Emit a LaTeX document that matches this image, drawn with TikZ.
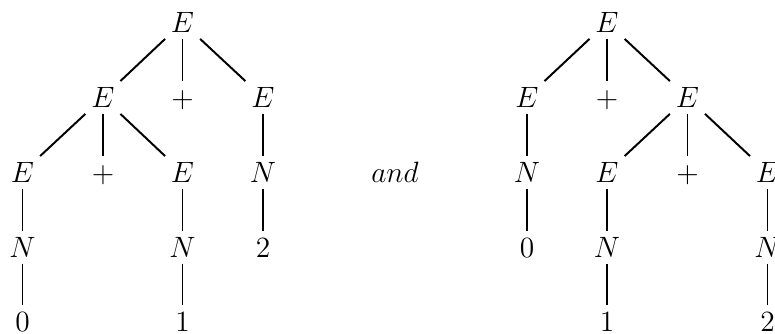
\documentclass[tikz,border=0pt]{standalone}
\begin{document}
\begin{tikzpicture}[x=0.408pt, y=-0.408pt,
  tn/.style={inner sep=0pt, font=\fontsize{12}{14}\selectfont,
             text height=8.2pt, text depth=0pt,
             minimum height=13pt, minimum width=16pt},
  br/.style={line width=0.8pt}]
\useasboundingbox (0,0) rectangle (775,334);

% first derivation tree
\node[tn] (a)   at (182.5,22.5)  {$E$};
\node[tn] (a1)  at (103,97.5)    {$E$};
\node[tn] (a2)  at (182.5,97.5)  {$+$};
\node[tn] (a3)  at (263,97.5)    {$E$};
\node[tn] (a11) at (22.5,172.5)  {$E$};
\node[tn] (a12) at (103,172.5)   {$+$};
\node[tn] (a13) at (182.5,172.5) {$E$};
\node[tn] (a31) at (263,172.5)   {$N$};
\node[tn] (a111) at (22.5,247.5) {$N$};
\node[tn] (a131) at (182.5,247.5){$N$};
\node[tn] (a311) at (263,247.5)  {$2$};
\node[tn] (a1111) at (22.5,321.5){$0$};
\node[tn] (a1311) at (182.5,321.5){$1$};

\draw[br] (a) -- (a1);  \draw[br] (a) -- (a2);  \draw[br] (a) -- (a3);
\draw[br] (a1) -- (a11); \draw[br] (a1) -- (a12); \draw[br] (a1) -- (a13);
\draw[br] (a3) -- (a31); \draw[br] (a31) -- (a311);
\draw[br] (a11) -- (a111); \draw[br] (a111) -- (a1111);
\draw[br] (a13) -- (a131); \draw[br] (a131) -- (a1311);

\node[tn] (and) at (395,172.5) {$and$};

% second derivation tree
\node[tn] (b)   at (607,22.5)    {$E$};
\node[tn] (b1)  at (527,97.5)    {$E$};
\node[tn] (b2)  at (607,97.5)    {$+$};
\node[tn] (b3)  at (687.5,97.5)  {$E$};
\node[tn] (b11) at (527,172.5)   {$N$};
\node[tn] (b31) at (607,172.5)   {$E$};
\node[tn] (b32) at (687.5,172.5) {$+$};
\node[tn] (b33) at (767.5,172.5) {$E$};
\node[tn] (b111) at (527,247.5)  {$0$};
\node[tn] (b311) at (607,247.5)  {$N$};
\node[tn] (b331) at (767.5,247.5){$N$};
\node[tn] (b3111) at (607,321.5) {$1$};
\node[tn] (b3311) at (767.5,321.5){$2$};

\draw[br] (b) -- (b1);  \draw[br] (b) -- (b2);  \draw[br] (b) -- (b3);
\draw[br] (b1) -- (b11); \draw[br] (b11) -- (b111);
\draw[br] (b3) -- (b31); \draw[br] (b3) -- (b32); \draw[br] (b3) -- (b33);
\draw[br] (b31) -- (b311); \draw[br] (b311) -- (b3111);
\draw[br] (b33) -- (b331); \draw[br] (b331) -- (b3311);
\end{tikzpicture}
\end{document}
